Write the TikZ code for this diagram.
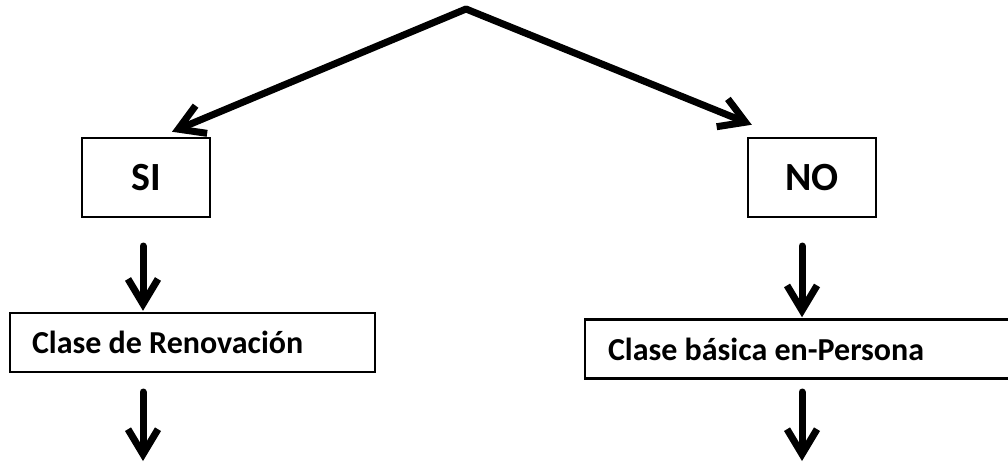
\documentclass[tikz,border=0pt]{standalone}
\usepackage{fontspec}
\setmainfont{Carlito}
\usetikzlibrary{arrows.meta}
\tikzset{
  conn/.style={line width=7pt, line cap=round, line join=round, -{Straight Barb[length=25pt, width=30pt]}},
  bigbox/.style={draw, line width=2.5pt, minimum width=128pt, minimum height=79pt, font=\bfseries\fontsize{40}{42}\selectfont, inner sep=0pt},
  longbox/.style={draw, line width=2.5pt, minimum height=59pt, font=\bfseries\fontsize{32}{34}\selectfont, inner ysep=0pt},
}
\begin{document}
\begin{tikzpicture}[x=1pt,y=-1pt]
\useasboundingbox (0,0) rectangle (1008,464);
\coordinate (apex) at (466,9);
\node[bigbox] (si) at (146,177.5) {SI};
\node[bigbox] (no) at (812,177.5) {NO};
\node[longbox, inner xsep=22pt] (ren) at (192.5,342.5) {\makebox[321pt][l]{Clase de Renovación}};
\node[longbox, inner xsep=23pt] (bas) at (798,349) {\makebox[380pt][l]{Clase básica en-Persona}};
\coordinate (s1) at (143,246);
\coordinate (s2) at (143,392);
\coordinate (s3) at (143,461);
\coordinate (n1) at (802,246);
\coordinate (n2) at (802,392);
\coordinate (n3) at (802,461);
\draw[conn] (apex) -- ([shift={(26,-5)}]si.north);
\draw[conn] (apex) -- ([shift={(5,-12)}]no.north west);
\draw[conn] (s1) -- ([yshift=1pt]s1 |- ren.north);
\draw[conn] (n1) -- ([yshift=1pt]n1 |- bas.north);
\draw[conn] (s2) -- (s3);
\draw[conn] (n2) -- (n3);
\end{tikzpicture}
\end{document}
